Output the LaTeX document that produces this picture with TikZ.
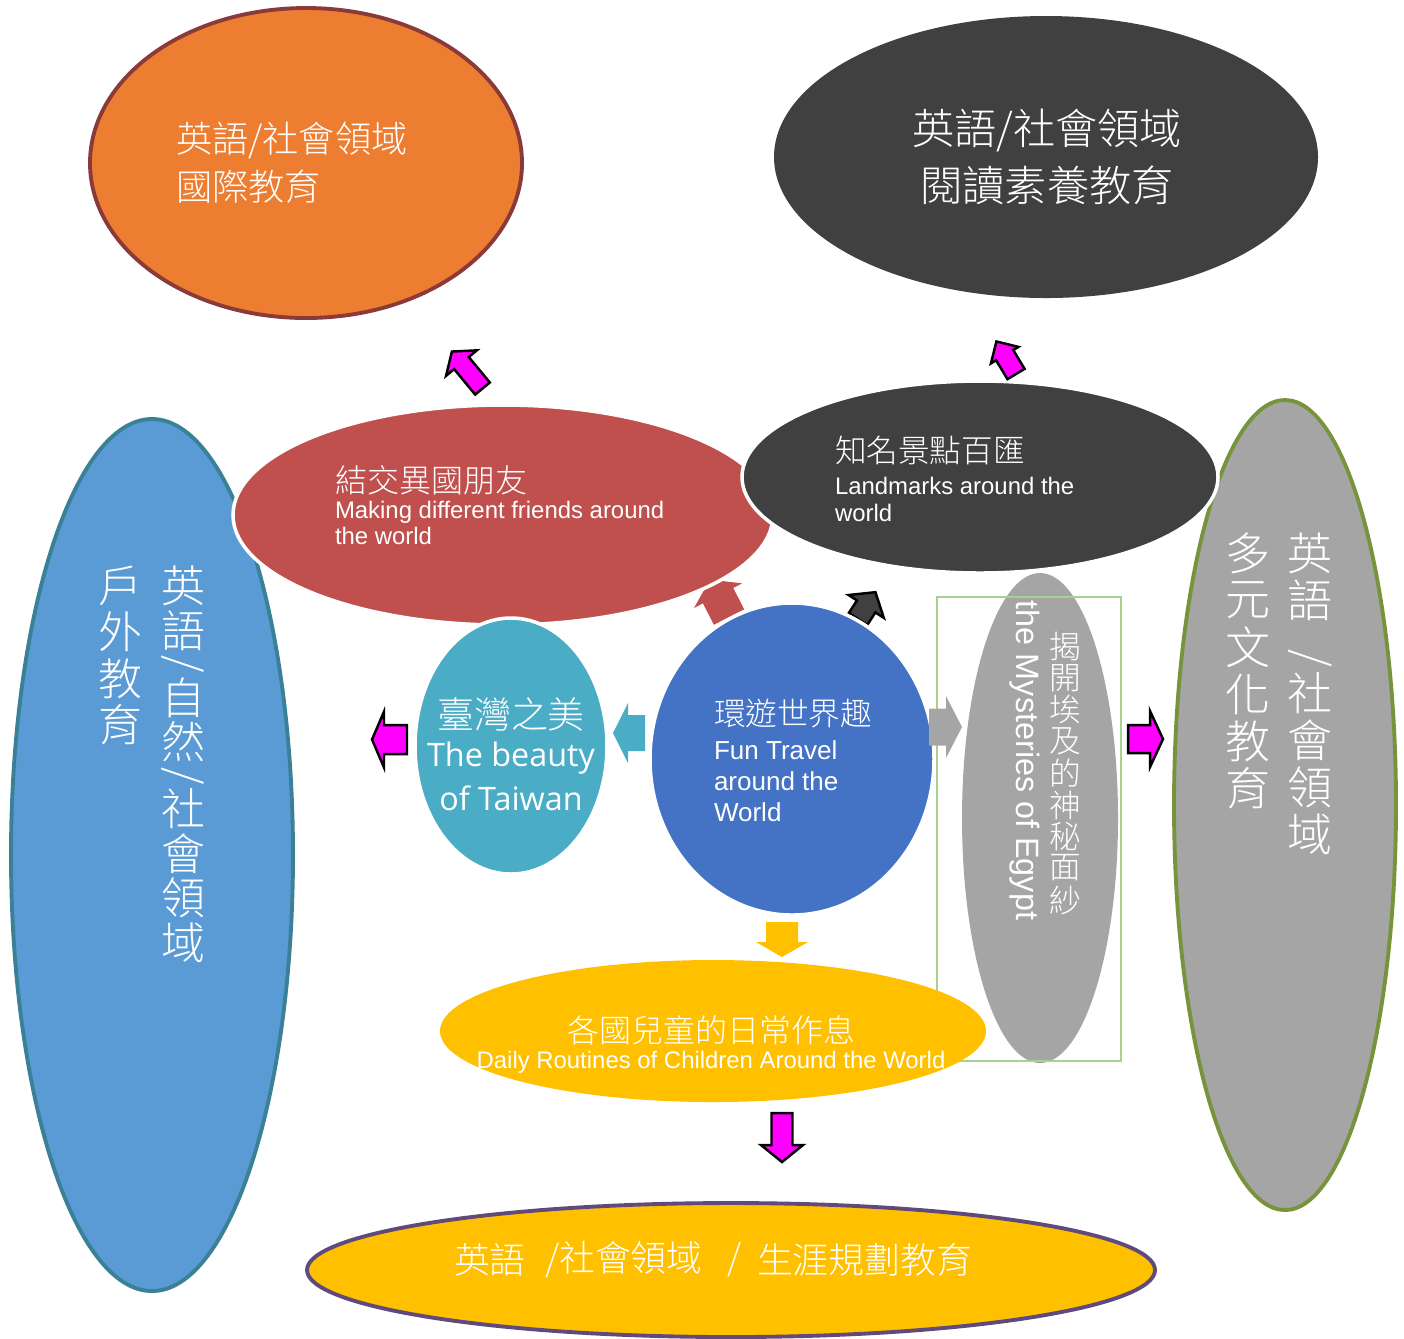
\documentclass[tikz,border=0pt]{standalone}
\usepackage{fontspec}
\usepackage{graphicx}
\usetikzlibrary{shapes.geometric}
\newfontfamily\cjk{Noto Sans CJK TC}[UprightFont=* Light]
\newfontfamily\arial{Liberation Sans}
\newfontfamily\segoe{Open Sans}
\newcommand\cj[1]{\cjk\fontsize{#1}{#1}\selectfont}
\newcommand\ar[1]{\arial\fontsize{#1}{#1}\selectfont}
\definecolor{cOrange}{HTML}{ED7D31}
\definecolor{cOrangeB}{HTML}{8B3A3A}
\definecolor{cDark}{HTML}{404040}
\definecolor{cBlueL}{HTML}{5B9BD5}
\definecolor{cBlueLB}{HTML}{3A8096}
\definecolor{cRed}{HTML}{C0504D}
\definecolor{cTeal}{HTML}{4BACC6}
\definecolor{cBlue}{HTML}{4472C4}
\definecolor{cGray}{HTML}{A5A5A5}
\definecolor{cGrayB}{HTML}{77933C}
\definecolor{cYellow}{HTML}{FFC000}
\definecolor{cPurple}{HTML}{604A7B}
\definecolor{cGreen}{HTML}{A9D18E}
\definecolor{cMag}{HTML}{FF00FF}
\newcommand\barrow[8]{%
  \begin{scope}[shift={(#1,#2)},rotate=#3]
    \path[#8] (0,-#6) -- ({#4-#5},-#6) -- ({#4-#5},-#7) -- (#4,0) -- ({#4-#5},#7) -- ({#4-#5},#6) -- (0,#6) -- cycle;
  \end{scope}}
\tikzset{
  ell/.style={ellipse, inner sep=0pt, outer sep=0pt},
  wb/.style={draw=white, line width=1pt},
  txt/.style={text=white, inner sep=0pt, outer sep=0pt},
  magarrow/.style={fill=cMag, draw=black, line width=0.7pt, line join=miter},
}
\begin{document}
\begin{tikzpicture}[x=0.01cm,y=-0.01cm]
\fill[white] (0,0) rectangle (1404,1338);
\useasboundingbox (0,0) rectangle (1404,1338);

% arrows that lie below ellipses
\barrow{729}{617}{117}{42}{18}{17}{27}{fill=cRed}
\barrow{858}{619}{57}{32}{17}{11}{21}{fill=cDark, draw=black, line width=0.7pt}

% outer ellipses
\node[ell, fill=cOrange, draw=cOrangeB, line width=1.1pt, minimum width=432*0.01cm, minimum height=310*0.01cm] (orange) at (306,163) {};
\node[ell, fill=cDark, minimum width=544*0.01cm, minimum height=282*0.01cm] (darktop) at (1046,157) {};
\node[ell, fill=cBlueL, draw=cBlueLB, line width=1.1pt, minimum width=282*0.01cm, minimum height=872*0.01cm] (blueleft) at (152,855) {};
\node[ell, fill=cGray, draw=cGrayB, line width=1.1pt, minimum width=222*0.01cm, minimum height=810*0.01cm] (grayright) at (1285,805) {};

% Egypt
\node[ell, fill=cGray, minimum width=156*0.01cm, minimum height=490*0.01cm] (egypt) at (1040,818) {};
\node[draw=cGreen, line width=0.6pt, minimum width=184*0.01cm, minimum height=464*0.01cm, inner sep=0pt] (egyptbox) at (1029,829) {};

% inner ellipses
\node[ell, fill=cRed, wb, minimum width=540*0.01cm, minimum height=220*0.01cm] (red) at (503,515) {};
\node[ell, fill=cDark, wb, minimum width=476*0.01cm, minimum height=192*0.01cm] (darkmid) at (980,477) {};
\node[ell, fill=cTeal, wb, minimum width=192*0.01cm, minimum height=256*0.01cm] (teal) at (511,746) {};
\node[ell, fill=cBlue, wb, minimum width=284*0.01cm, minimum height=312*0.01cm] (center) at (792,759) {};
\node[ell, fill=cYellow, minimum width=546*0.01cm, minimum height=142*0.01cm] (yellow) at (713,1031) {};
\node[ell, fill=cYellow, draw=cPurple, line width=1.1pt, minimum width=848*0.01cm, minimum height=134*0.01cm] (bottom) at (731,1270) {};

% other arrows
\barrow{482.5}{388.5}{129.6}{48}{15}{9.5}{20}{magarrow}
\barrow{1016}{374}{121}{38}{16}{10}{16}{magarrow}
\barrow{407}{739.5}{180}{35}{12}{14.5}{28}{magarrow}
\barrow{1128}{739}{0}{35}{13}{14}{28}{magarrow}
\barrow{782}{1113}{-90}{49}{17}{10.5}{21}{magarrow}
\barrow{645}{733}{180}{32}{15}{18}{30}{fill=cTeal}
\barrow{929}{727}{0}{33}{16}{18.5}{31}{fill=cGray}
\barrow{782}{922}{-90}{35}{15}{16}{26}{fill=cYellow}

% texts: orange
\node[txt, anchor=west, font=\cj{10.3}] (t1a) at (176,140) {英語/社會領域};
\node[txt, anchor=west, font=\cj{10.3}] (t1b) at (176,187) {國際教育};
% dark top
\node[txt, font=\cj{12}] (t2a) at (1047,130) {英語/社會領域};
\node[txt, font=\cj{12}] (t2b) at (1047,185) {閱讀素養教育};
% red
\node[txt, anchor=west, font=\cj{9.1}] (t3a) at (335,480) {結交異國朋友};
\node[txt, anchor=west, font=\ar{6.8}] (t3b) at (335,512) {Making different friends around};
\node[txt, anchor=west, font=\ar{6.8}] (t3c) at (335,536) {the world};
% dark mid
\node[txt, anchor=west, font=\cj{9}] (t4a) at (835,450) {知名景點百匯};
\node[txt, anchor=west, font=\ar{6.8}] (t4b) at (835,486) {Landmarks around the};
\node[txt, anchor=west, font=\ar{6.8}] (t4c) at (835,513) {world};
% teal
\node[txt, font=\cj{10.5}] (t5a) at (511,714) {臺灣之美};
\node[txt, font=\segoe\fontsize{9.2}{9.2}\selectfont] (t5b) at (511,758) {The beauty};
\node[txt, font=\segoe\fontsize{9.2}{9.2}\selectfont] (t5c) at (511,798) {of Taiwan};
% center
\node[txt, anchor=west, font=\cj{9}] (t6a) at (714,713) {環遊世界趣};
\node[txt, anchor=west, font=\ar{7.4}] (t6b) at (714,750) {Fun Travel};
\node[txt, anchor=west, font=\ar{7.4}] (t6c) at (714,781) {around the};
\node[txt, anchor=west, font=\ar{7.4}] (t6d) at (714,812) {World};
% yellow
\node[txt, font=\cj{9.1}] (t7a) at (711,1030) {各國兒童的日常作息};
\node[txt, font=\ar{6.8}] (t7b) at (711,1062) {Daily Routines of Children Around the World};
% bottom
\node[txt, anchor=west, font=\cj{10.2}] (t8a) at (454,1260) {英語};
\node[txt, anchor=west, font=\cj{10.2}] (t8b) at (545,1260) {/社會領域};
\node[txt, anchor=west, font=\cj{10.2}] (t8c) at (727,1260) {/};
\node[txt, anchor=west, font=\cj{10.2}] (t8d) at (757,1260) {生涯規劃教育};
% Egypt
\node[txt, rotate=-90, anchor=west, font=\ar{9.2}] (t9a) at (1025,600) {the Mysteries of Egypt};
\foreach \c/\y [count=\i] in {揭/646,開/678,埃/709,及/741,的/773,神/805,秘/836,面/868,紗/900}
  \node[txt, font=\cj{9}] (t9c\i) at (1065,\y) {\c};
% blue left vertical
\foreach \c/\y [count=\i] in {英/586,語/631,自/698,然/742,社/809,會/854,領/898,域/943}
  \node[txt, font=\cj{12.5}] (tbl\i) at (183,\y) {\c};
\node[txt, rotate=-90, font=\cj{12.5}] (tbls1) at (183,664) {/};
\node[txt, rotate=-90, font=\cj{12.5}] (tbls2) at (183,776) {/};
\foreach \c/\y [count=\i] in {戶/586,外/632,教/679,育/725}
  \node[txt, font=\cj{12.5}] (tbm\i) at (120,\y) {\c};
% gray right vertical
\foreach \c/\y [count=\i] in {英/553,語/600,社/693,會/740,領/787,域/834}
  \node[txt, font=\cj{12.8}] (tgr\i) at (1310,\y) {\c};
\node[txt, rotate=-90, font=\cj{12.8}] (tgrs) at (1310,658) {/};
\foreach \c/\y [count=\i] in {多/553,元/600,文/647,化/694,教/741,育/788}
  \node[txt, font=\cj{12.8}] (tgm\i) at (1248,\y) {\c};
\end{tikzpicture}
\end{document}
